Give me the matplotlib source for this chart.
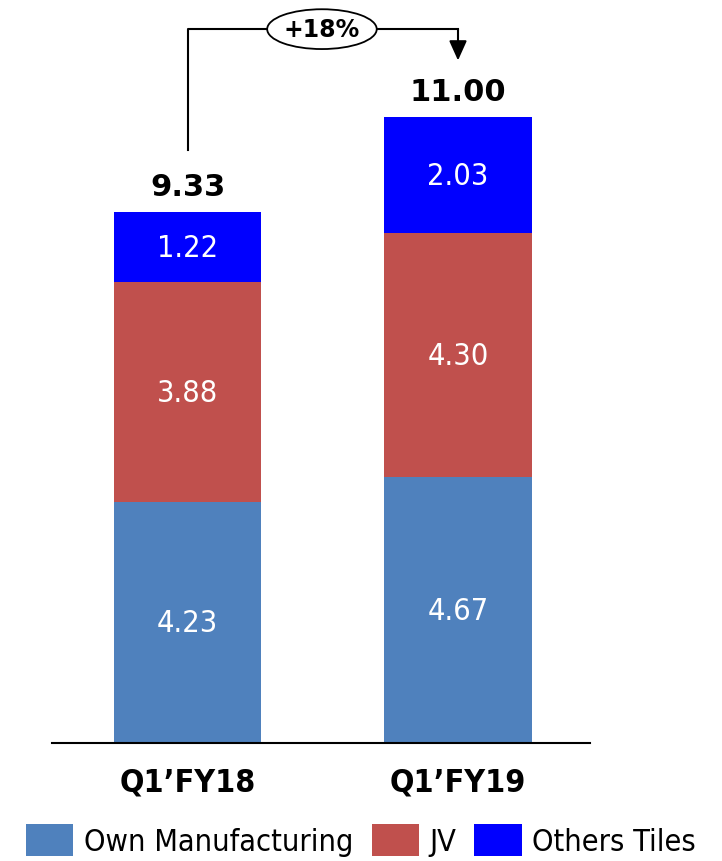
import matplotlib
matplotlib.use("Agg")
import matplotlib.pyplot as plt
from matplotlib.patches import Ellipse, Patch
import numpy as np

categories = ["Q1\u2019FY18", "Q1\u2019FY19"]
own_mfg = [4.23, 4.67]
jv = [3.88, 4.30]
others = [1.22, 2.03]
totals = [9.33, 11.00]
growth_label = "+18%"
series_names = ["Own Manufacturing", "JV", "Others Tiles"]
colors = ["#4F81BD", "#C0504D", "#0000FF"]

plt.rcParams['font.family'] = ['DejaVu Sans']

fig = plt.figure(figsize=(7.22, 8.62), dpi=100)
ax = fig.add_axes([52/722, 118/862, 538/722, 744/862])

x = np.arange(len(categories))
w = 0.547
bottom = np.zeros(len(categories))
for vals, c in zip([own_mfg, jv, others], colors):
    vals = np.array(vals)
    ax.bar(x, vals, w, bottom=bottom, color=c, edgecolor='none')
    for xi, b, v in zip(x, bottom, vals):
        ax.text(xi, b + v/2, f"{v:.2f}", ha='center', va='center', color='white',
                fontsize=22, fontstretch='condensed')
    bottom += vals

for xi, t in zip(x, totals):
    ax.text(xi, t + 0.2, f"{t:.2f}", ha='center', va='bottom', fontsize=22,
            fontweight='bold')

ax.set_xlim(-0.501, 1.488)
ax.set_ylim(0, 13.08)
ax.set_yticks([])
ax.set_xticks(x)
ax.set_xticklabels(categories, fontsize=23, fontweight='bold', fontstretch='condensed')
ax.tick_params(axis='x', length=0, pad=17)
for s in ['top', 'right', 'left']:
    ax.spines[s].set_visible(False)
ax.spines['bottom'].set_linewidth(1.5)

# growth bracket
y_top = 12.55
ax.plot([x[0], x[0], x[1]], [totals[0] + 1.1, y_top, y_top], color='black', lw=1.5)
ax.annotate("", xy=(x[1], totals[1] + 1.0), xytext=(x[1], y_top),
            arrowprops=dict(arrowstyle='-|>,head_length=0.6,head_width=0.27', color='black',
                            lw=1.5, mutation_scale=20, shrinkA=0, shrinkB=0))
ax.add_patch(Ellipse((0.497, y_top), 0.405, 0.70, facecolor='white', edgecolor='black',
                     lw=1.3, zorder=3))
ax.text(0.497, y_top, growth_label, ha='center', va='center', fontsize=17,
        fontweight='bold', zorder=4)

handles = [Patch(facecolor=c, edgecolor='none') for c in colors]
fig.legend(handles, series_names, loc='lower center', bbox_to_anchor=(0.5, 0.0),
           ncol=3, frameon=False, prop=dict(size=22, stretch='condensed'),
           handlelength=1.54, handleheight=1.2, handletextpad=0.35, columnspacing=0.6,
           borderpad=0.1, borderaxespad=0.05)

fig.savefig("out.png", dpi=100)
